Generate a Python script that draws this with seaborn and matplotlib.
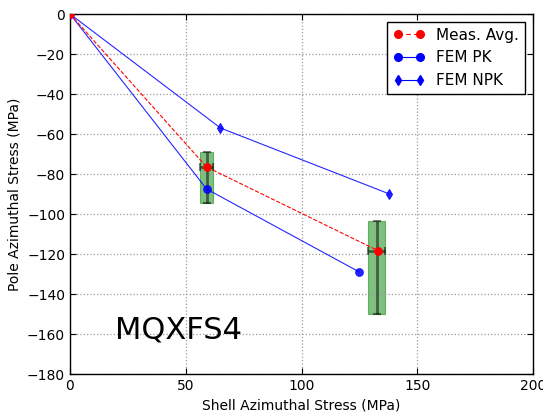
import matplotlib
matplotlib.use("Agg")
import matplotlib.pyplot as plt
from matplotlib.lines import Line2D
from matplotlib.patches import Rectangle
import seaborn as sns
import pandas as pd

meas_x = [0, 59, 133]
meas_y = [0, -76.5, -118.3]
pk_x = [0, 59, 125]
pk_y = [0, -87.5, -129]
npk_x = [0, 65, 138]
npk_y = [0, -57, -90]
box_x = [59, 132.4]
box_xerr = [2.8, 3.6]
box_ylo = [-94.5, -150]
box_yhi = [-69, -103.3]
label_text = "MQXFS4"

plt.rcParams['font.family'] = ['DejaVu Sans']
fig = plt.figure(figsize=(5.43, 4.12), dpi=100)
ax = fig.add_axes([70/543, 38/412, 463/543, 360/412])

for x, xe, lo, hi in zip(box_x, box_xerr, box_ylo, box_yhi):
    ax.add_patch(Rectangle((x - xe, lo), 2 * xe, hi - lo, facecolor='green',
                           edgecolor='green', alpha=0.5, lw=0.8, zorder=1))
for x, xe, lo, hi, my in zip(box_x, box_xerr, box_ylo, box_yhi, meas_y[1:]):
    ax.errorbar([x], [my], xerr=[[xe], [xe]], yerr=[[my - lo], [hi - my]],
                fmt='none', ecolor='black', alpha=0.5, elinewidth=2,
                capsize=3, capthick=1.5, zorder=2)

df_m = pd.DataFrame({'x': meas_x, 'y': meas_y})
df_p = pd.DataFrame({'x': pk_x, 'y': pk_y})
df_n = pd.DataFrame({'x': npk_x, 'y': npk_y})

sns.lineplot(data=df_p, x='x', y='y', sort=False, estimator=None, ax=ax,
             color='blue', lw=0.8, alpha=0.85, marker='o', markersize=5.5,
             markeredgecolor='blue', zorder=3)
sns.lineplot(data=df_n, x='x', y='y', sort=False, estimator=None, ax=ax,
             color='blue', lw=0.8, alpha=0.85, marker='d', markersize=5.5,
             markeredgecolor='blue', zorder=3)
sns.lineplot(data=df_m, x='x', y='y', sort=False, estimator=None, ax=ax,
             color='red', lw=0.8, linestyle='--', dashes=(4, 3), marker='o',
             markersize=5.5, markeredgecolor='red', zorder=4)

ax.set_xlim(0, 200)
ax.set_ylim(-180, 0)
ax.set_xticks([0, 50, 100, 150, 200])
ax.set_yticks(list(range(-180, 1, 20)))
ax.grid(True, color='#999999', linestyle=':', linewidth=0.9)
ax.tick_params(direction='in', top=True, right=True, labelsize=10, length=4)
for s in ax.spines.values():
    s.set_color('black')
    s.set_linewidth(1.0)
ax.set_xlabel('Shell Azimuthal Stress (MPa)', fontsize=10)
ax.set_ylabel('Pole Azimuthal Stress (MPa)', fontsize=10)

ax.text(19.5, -162, label_text, fontsize=22, color='black')

handles = [
    Line2D([], [], color='red', lw=0.8, linestyle='--', dashes=(4, 3), marker='o', markersize=5.5),
    Line2D([], [], color='blue', lw=0.8, marker='o', markersize=5.5),
    Line2D([], [], color='blue', lw=0.8, marker='d', markersize=5.5),
]
leg = ax.legend(handles, ['Meas. Avg.', 'FEM PK', 'FEM NPK'], loc='upper right',
                numpoints=2, fontsize=11, fancybox=False, framealpha=1,
                edgecolor='black', borderaxespad=0.5, handlelength=2.0)
leg.get_frame().set_linewidth(1.0)

fig.savefig('out.png', dpi=100)
